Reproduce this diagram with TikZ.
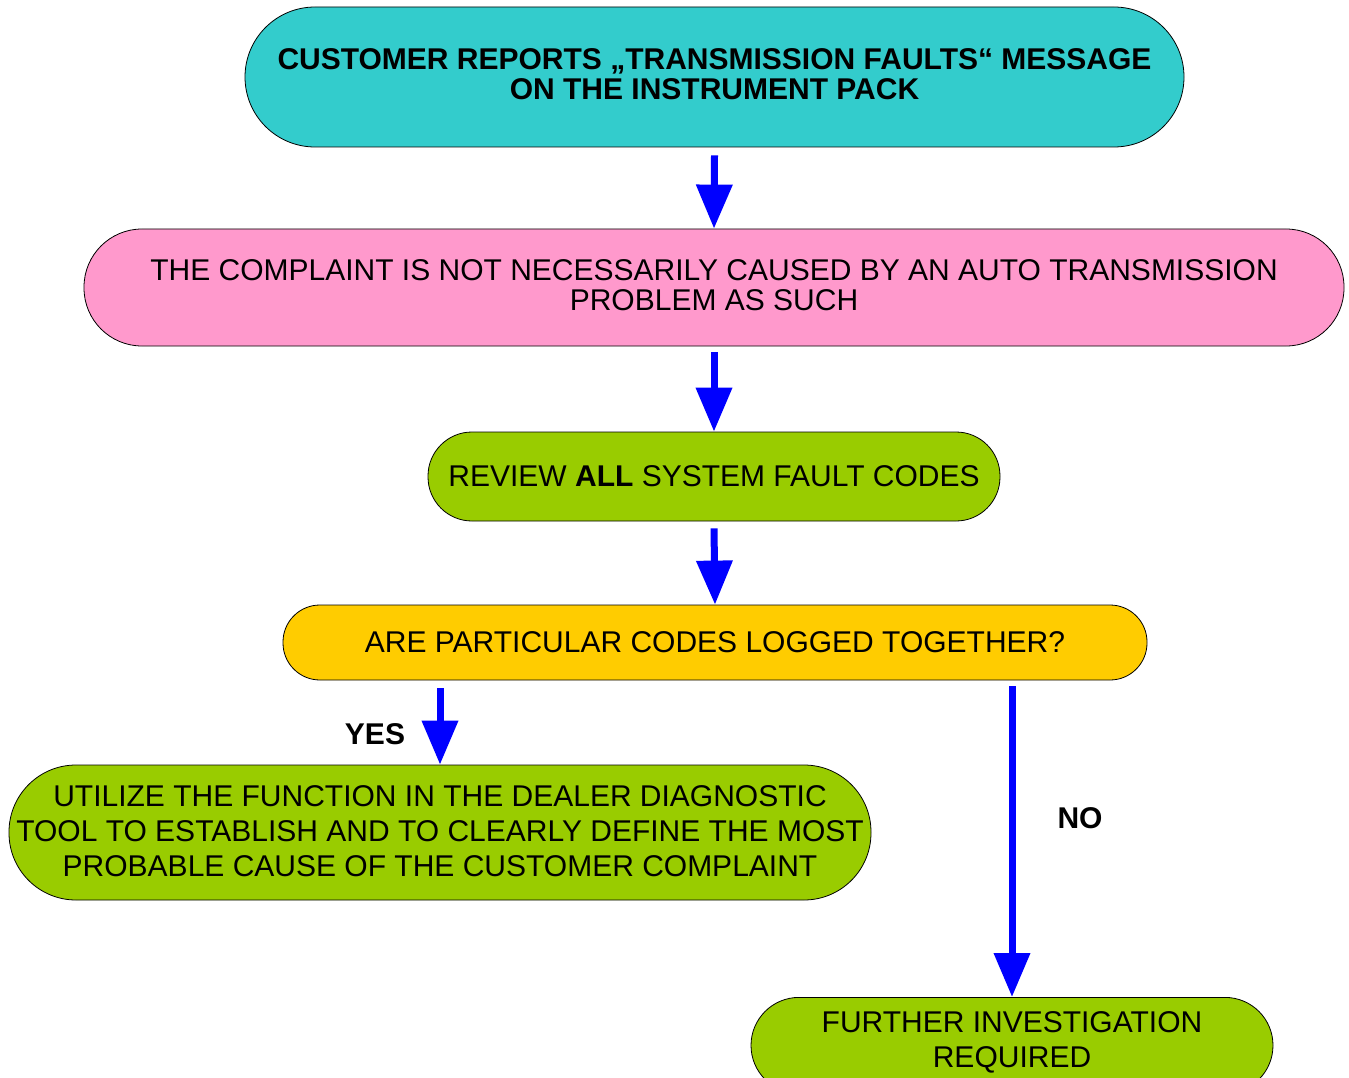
\documentclass[tikz,border=0pt]{standalone}
\usepackage{fontspec}
\setmainfont{Liberation Sans}
\usetikzlibrary{arrows.meta}
\definecolor{cyanbox}{HTML}{33CCCC}
\definecolor{pinkbox}{HTML}{FF99CC}
\definecolor{greenbox}{HTML}{99CC00}
\definecolor{yellowbox}{HTML}{FFCC00}
\definecolor{arrowblue}{HTML}{0000FF}
\newcommand{\boxlines}[2]{\raisebox{#1}[\height][\depth]{\begin{tabular}{@{}c@{}}#2\end{tabular}}}
\tikzset{
  stadium/.style={draw=black, line width=0.8pt, align=center, inner sep=0pt,
    font=\fontsize{30}{30}\selectfont},
  tallskip/.style={font=\fontsize{30}{35}\selectfont},
  flowarrow/.style={draw=arrowblue, line width=7pt,
    -{Triangle[width=35pt,length=44pt]}, arrowblue},
  answer/.style={font=\fontsize{30}{30}\selectfont\bfseries, inner sep=0pt}
}
\begin{document}
\begin{tikzpicture}[x=1pt,y=-1pt]
\path[clip] (0,0) rectangle (1349,1078);
\fill[white] (0,0) rectangle (1349,1078);
\node[stadium, fill=cyanbox, minimum width=939pt, minimum height=140pt, rounded corners=70pt,
  font=\fontsize{30}{30}\selectfont\bfseries] (a) at (714.5,77)
  {\boxlines{-2pt}{CUSTOMER REPORTS „TRANSMISSION FAULTS“ MESSAGE\\ON THE INSTRUMENT PACK}};
\node[stadium, fill=pinkbox, minimum width=1260pt, minimum height=117pt, rounded corners=58pt] (b) at (714,287.5)
  {\boxlines{-1.5pt}{THE COMPLAINT IS NOT NECESSARILY CAUSED BY AN AUTO TRANSMISSION\\PROBLEM AS SUCH}};
\node[stadium, fill=greenbox, minimum width=572pt, minimum height=89pt, rounded corners=44pt] (c) at (714,476.5)
  {REVIEW \textbf{ALL} SYSTEM FAULT CODES};
\node[stadium, fill=yellowbox, minimum width=864pt, minimum height=75pt, rounded corners=37pt] (d) at (715,642.5)
  {ARE PARTICULAR CODES LOGGED TOGETHER?};
\node[stadium, tallskip, fill=greenbox, minimum width=862pt, minimum height=135pt, rounded corners=67pt] (e) at (440,832.5)
  {\boxlines{-2pt}{UTILIZE THE FUNCTION IN THE DEALER DIAGNOSTIC\\TOOL TO ESTABLISH AND TO CLEARLY DEFINE THE MOST\\PROBABLE CAUSE OF THE CUSTOMER COMPLAINT}};
\node[stadium, tallskip, fill=greenbox, minimum width=522pt, minimum height=96pt, rounded corners=48pt, anchor=north] (f) at (1012,997)
  {\boxlines{2pt}{FURTHER INVESTIGATION\\REQUIRED}};
\draw[flowarrow] ([yshift=-8pt]a.south) -- (b.north);
\draw[flowarrow] ([yshift=-6pt]b.south) -- (c.north);
\draw[flowarrow] ([yshift=-7pt]c.south) -- (d.north);
\draw[flowarrow] ([yshift=-8pt]e.north |- d.south) -- (e.north);
\draw[flowarrow] ([yshift=-6pt]f.north |- d.south) -- (f.north);
\node[answer] (yes) at (375,734) {YES};
\node[answer] (no) at (1080,818) {NO};
\end{tikzpicture}
\end{document}
